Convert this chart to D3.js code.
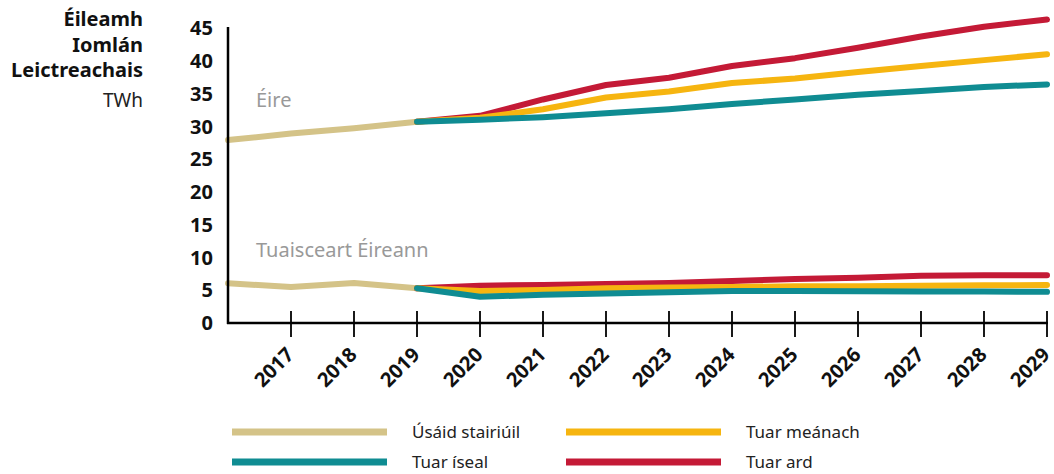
<!DOCTYPE html>
<html><head><meta charset="utf-8">
<script src="https://cdn.jsdelivr.net/npm/d3@7"></script>
<style>body{margin:0;background:#fff}svg{display:block}text{font-family:"Noto Sans",sans-serif}</style>
</head><body><svg id="c" width="1054" height="474"></svg>
<script>
const years = [2016,2017,2018,2019,2020,2021,2022,2023,2024,2025,2026,2027,2028,2029];
const yTicks = [0,5,10,15,20,25,30,35,40,45];
const titleLines = ["Éileamh","Iomlán","Leictreachais"];
const unitLabel = "TWh";
// Éire
const ieHistYears = [2016,2017,2018,2019];
const ieHist = [27.9,28.9,29.7,30.7];
const fcYears = [2019,2020,2021,2022,2023,2024,2025,2026,2027,2028,2029];
const ieLow  = [30.7,31.0,31.4,32.0,32.6,33.4,34.1,34.8,35.4,36.0,36.4];
const ieMid  = [30.7,31.3,32.6,34.4,35.3,36.6,37.3,38.3,39.2,40.1,41.0];
const ieHigh = [30.7,31.6,34.1,36.3,37.4,39.2,40.4,42.0,43.7,45.2,46.3];
// Tuaisceart Éireann
const niHist = [6.05,5.5,6.1,5.3];
const niLow  = [5.3,4.0,4.3,4.5,4.7,4.9,4.9,4.85,4.8,4.8,4.75];
const niMid  = [5.3,4.9,5.05,5.3,5.4,5.5,5.6,5.6,5.7,5.75,5.8];
const niHigh = [5.3,5.7,5.8,5.95,6.1,6.4,6.7,6.9,7.2,7.3,7.3];
const legendNames = ["Úsáid stairiúil","Tuar meánach","Tuar íseal","Tuar ard"];
const colors = {hist:"#D4C388", mid:"#F6B510", low:"#0F8C92", high:"#C41A36"};

const svg = d3.select("#c");
const x = d3.scaleLinear().domain([2016,2029]).range([228,1047]);
const y = d3.scaleLinear().domain([0,45]).range([323,28]);

// title
const t = svg.append("g");
titleLines.forEach((s,i)=>t.append("text").attr("x",143).attr("y",26+i*25.5)
  .attr("text-anchor","end").attr("font-weight","bold").attr("font-size",20).attr("fill","#111").text(s));
t.append("text").attr("x",143).attr("y",106.5).attr("text-anchor","end").attr("font-size",19).attr("fill","#222").text(unitLabel);

// y labels
svg.append("g").selectAll("text").data(yTicks).join("text")
  .attr("x",213).attr("y",d=>y(d)).attr("dy","0.36em").attr("text-anchor","end")
  .attr("font-weight","bold").attr("font-size",20).attr("fill","#111").text(d=>d);

// lines
const line = d3.line().x(d=>x(d[0])).y(d=>y(d[1]));
function draw(xs, vs, col){
  svg.append("path").datum(xs.map((v,i)=>[v,vs[i]])).attr("d",line)
    .attr("fill","none").attr("stroke",col).attr("stroke-width",6)
    .attr("stroke-linejoin","round").attr("stroke-linecap","round");
}
draw(ieHistYears, ieHist, colors.hist);
draw(ieHistYears, niHist, colors.hist);
draw(fcYears, ieHigh, colors.high);
draw(fcYears, niHigh, colors.high);
draw(fcYears, ieMid, colors.mid);
draw(fcYears, niMid, colors.mid);
draw(fcYears, ieLow, colors.low);
draw(fcYears, niLow, colors.low);

// axes
svg.append("line").attr("x1",x(2016)).attr("x2",x(2016)).attr("y1",27).attr("y2",324)
  .attr("stroke","#000").attr("stroke-width",2.5);
svg.append("line").attr("x1",x(2016)-1).attr("x2",x(2029)+1).attr("y1",323).attr("y2",323)
  .attr("stroke","#000").attr("stroke-width",2.5);
svg.append("g").selectAll("line").data(years.slice(1)).join("line")
  .attr("x1",d=>x(d)).attr("x2",d=>x(d)).attr("y1",311).attr("y2",337)
  .attr("stroke","#000").attr("stroke-width",1.8);
svg.append("g").selectAll("text").data(years.slice(1)).join("text")
  .attr("transform",d=>`translate(${x(d)+4},${356}) rotate(-45)`)
  .attr("text-anchor","end")
  .attr("font-weight","bold").attr("font-size",20).attr("fill","#111").text(d=>d);

// region labels
svg.append("text").attr("x",256).attr("y",107).attr("font-size",20).attr("fill","#999").text("Éire");
svg.append("text").attr("x",256).attr("y",257).attr("font-size",20).attr("fill","#999").text("Tuaisceart Éireann");

// legend
const leg = [
  {n:legendNames[0],c:colors.hist,x:232,y:432},
  {n:legendNames[1],c:colors.mid,x:566,y:432},
  {n:legendNames[2],c:colors.low,x:232,y:462},
  {n:legendNames[3],c:colors.high,x:566,y:462}];
const lg = svg.append("g").selectAll("g").data(leg).join("g");
lg.append("line").attr("x1",d=>d.x).attr("x2",d=>d.x+155).attr("y1",d=>d.y).attr("y2",d=>d.y)
  .attr("stroke",d=>d.c).attr("stroke-width",7);
lg.append("text").attr("x",d=>d.x+180).attr("y",d=>d.y).attr("dy","0.36em")
  .attr("font-size",17).attr("fill","#222").text(d=>d.n);
</script></body></html>
